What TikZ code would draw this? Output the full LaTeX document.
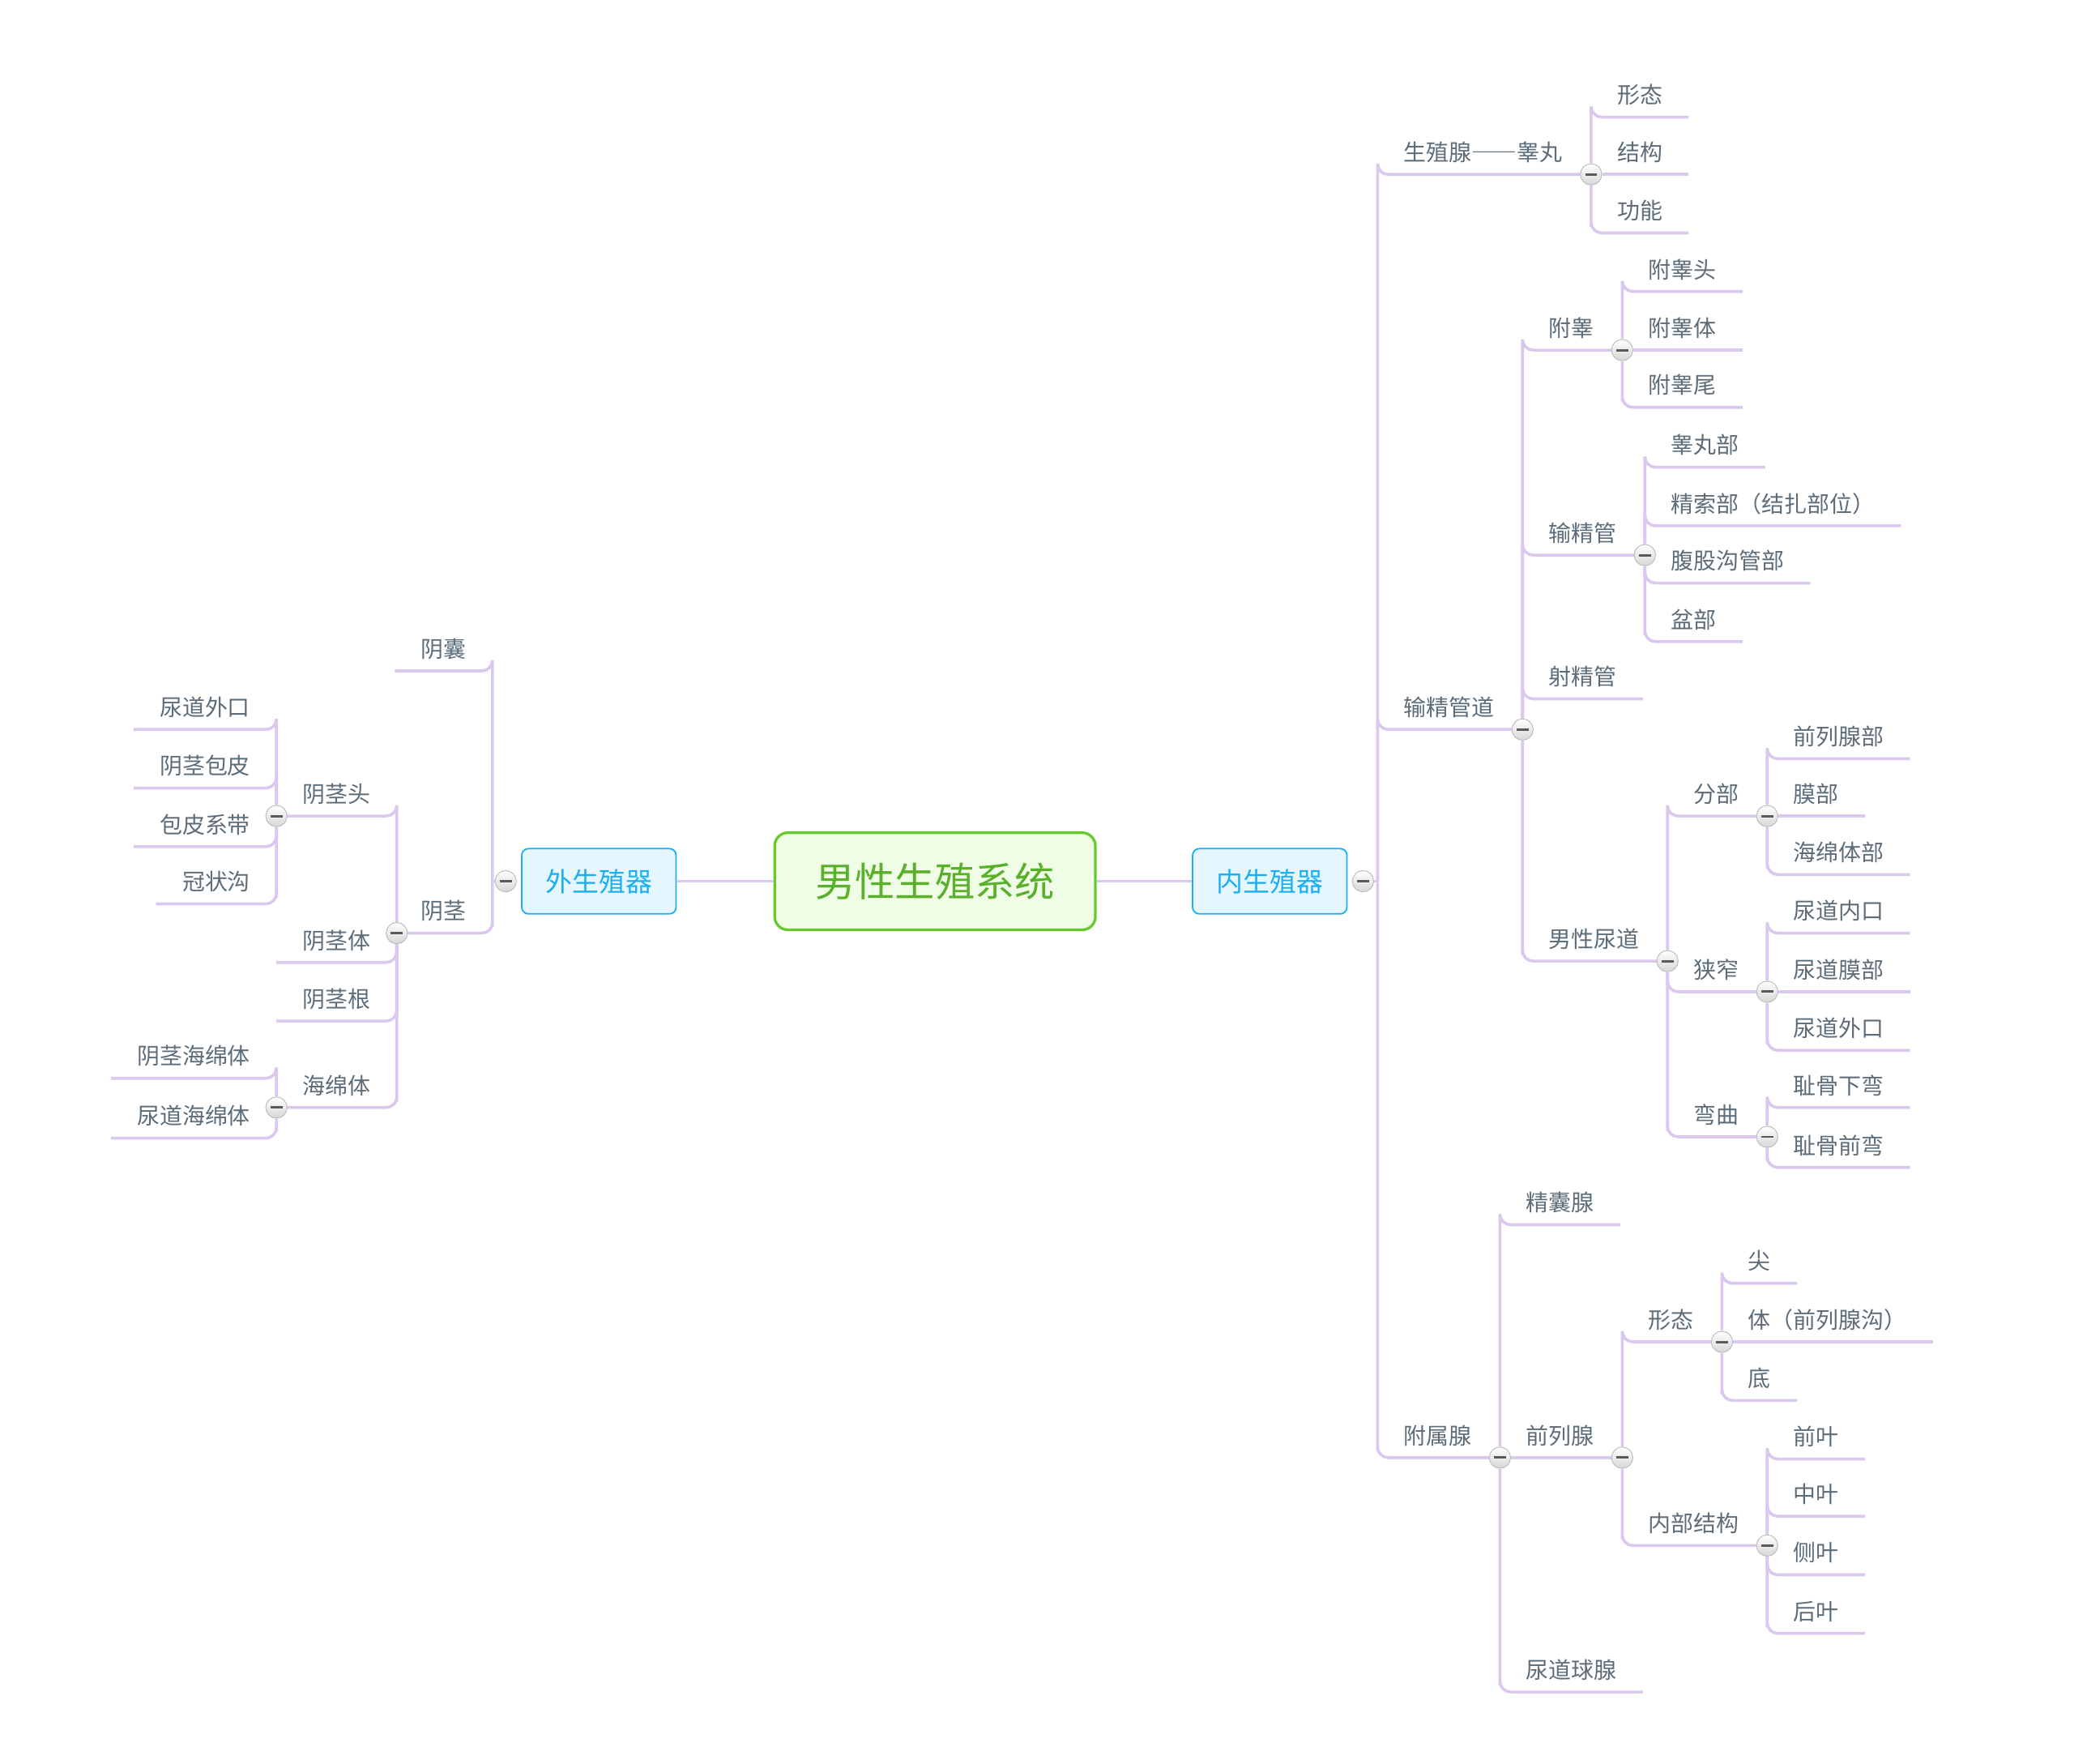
\documentclass[tikz,border=0pt]{standalone}
\usepackage{fontspec}
\usepackage{xcolor}
\usepackage{tikz}
\usetikzlibrary{positioning}
\newfontfamily\cjk{Noto Sans CJK SC}
\definecolor{linec}{HTML}{DAC8EE}
\definecolor{txtc}{HTML}{5C6C79}
\definecolor{rootline}{HTML}{66C92E}
\definecolor{rootfill}{HTML}{F0FDE6}
\definecolor{roottxt}{HTML}{5AB02A}
\definecolor{mainline}{HTML}{1AAEF2}
\definecolor{mainfill}{HTML}{E6F6FE}
\definecolor{foldc}{HTML}{BDBDBD}
\definecolor{foldm}{HTML}{5A5A5A}

\begin{document}
\begin{tikzpicture}[x=1pt, y=-1pt,
  root/.style={draw=rootline, fill=rootfill, line width=2pt, rounded corners=10pt,
    minimum width=241pt, minimum height=73pt, text=roottxt, font=\cjk\fontsize{30}{30}\selectfont},
  main/.style={draw=mainline, fill=mainfill, line width=1.1pt, rounded corners=5pt,
    minimum width=116pt, minimum height=49pt, text=mainline, font=\cjk\fontsize{20}{20}\selectfont},
  rt/.style={anchor=south west, inner xsep=19.5pt, inner ysep=0pt, text height=13pt, text depth=10pt,
    text=txtc, font=\cjk\fontsize{17}{17}\selectfont},
  lt/.style={rt, anchor=south east},
  br/.style={draw=linec, line width=2.2pt, rounded corners=8pt},
  fold/.style={circle, draw=foldc, line width=0.6pt, top color=white, bottom color=black!16,
    minimum size=16pt, inner sep=0pt,
    path picture={\draw[foldm, line width=1.8pt] ([xshift=-4.5pt]path picture bounding box.center)
      -- ([xshift=4.5pt]path picture bounding box.center);}},
]
\useasboundingbox (0,0) rectangle (1568,1325);

\node[root] (root) at (702.5,662) {男性生殖系统};
\node[main] (inner) at (954,662) {内生殖器};
\node[main] (outer) at (450,662) {外生殖器};
\draw[br] (root) -- (inner);
\draw[br] (root) -- (outer);

% right side
\node[fold] (fin) at ([xshift=11.5pt]inner.east) {};
\coordinate (jr) at (1035,662);
\draw[br] (fin) -- (jr);

\node[rt] (gonad) at (jr |- 0,131) {生殖腺{\addfontfeature{CharacterWidth=Full}——}睾丸};
\draw[br] (jr) |- (gonad.south west) -- ([xshift=2pt]gonad.south east);
\node[rt] (duct) at (jr |- 0,548) {输精管道};
\draw[br] (jr) |- (duct.south west) -- ([xshift=1.5pt]duct.south east);
\node[rt] (gland) at (jr |- 0,1095) {附属腺};
\draw[br] (jr) |- (gland.south west) -- ([xshift=1.5pt]gland.south east);

\node[fold] (fgonad) at ([xshift=2pt]gonad.south east) {};
\node[rt] (g1) at (fgonad |- 0,88) {形态};
\node[rt] (g2) at (fgonad |- 0,131) {结构};
\node[rt] (g3) at (fgonad |- 0,175) {功能};
\draw[br] (fgonad) |- (g1.south west) -- (g1.south east);
\draw[br] (fgonad) -- (g2.south east);
\draw[br] (fgonad) |- (g3.south west) -- (g3.south east);

\node[fold] (fduct) at ([xshift=1.5pt]duct.south east) {};
\node[rt] (epi) at (fduct |- 0,263) {附睾};
\node[rt] (vas) at (fduct |- 0,417) {输精管};
\node[rt] (ejac) at (fduct |- 0,525) {射精管};
\node[rt] (ure) at (fduct |- 0,722) {男性尿道};
\draw[br] (fduct) |- (epi.south west) -- ([xshift=1.5pt]epi.south east);
\draw[br] (fduct) |- (vas.south west) -- ([xshift=1.5pt]vas.south east);
\draw[br] (fduct) |- (ejac.south west) -- (ejac.south east);
\draw[br] (fduct) |- (ure.south west) -- ([xshift=1.5pt]ure.south east);

\node[fold] (fepi) at ([xshift=1.5pt]epi.south east) {};
\node[rt] (e1) at (fepi |- 0,219) {附睾头};
\node[rt] (e2) at (fepi |- 0,263) {附睾体};
\node[rt] (e3) at (fepi |- 0,306) {附睾尾};
\draw[br] (fepi) |- (e1.south west) -- (e1.south east);
\draw[br] (fepi) -- (e2.south east);
\draw[br] (fepi) |- (e3.south west) -- (e3.south east);

\node[fold] (fvas) at ([xshift=1.5pt]vas.south east) {};
\node[rt] (v1) at (fvas |- 0,351) {睾丸部};
\node[rt] (v2) at (fvas |- 0,395) {精索部（结扎部位）};
\node[rt] (v3) at (fvas |- 0,438) {腹股沟管部};
\node[rt] (v4) at (fvas |- 0,482) {盆部};
\draw[br] (fvas) |- (v1.south west) -- (v1.south east);
\draw[br] (fvas) |- (v2.south west) -- (v2.south east);
\draw[br] (fvas) |- (v3.south west) -- (v3.south east);
\draw[br] (fvas) |- (v4.south west) -- (v4.south east);

\node[fold] (fure) at ([xshift=1.5pt]ure.south east) {};
\node[rt] (part) at (fure |- 0,613) {分部};
\node[rt] (narrow) at (fure |- 0,745) {狭窄};
\node[rt] (bend) at (fure |- 0,854) {弯曲};
\draw[br] (fure) |- (part.south west) -- ([xshift=1.5pt]part.south east);
\draw[br] (fure) |- (narrow.south west) -- ([xshift=1.5pt]narrow.south east);
\draw[br] (fure) |- (bend.south west) -- ([xshift=1.5pt]bend.south east);

\node[fold] (fpart) at ([xshift=1.5pt]part.south east) {};
\node[rt] (p1) at (fpart |- 0,570) {前列腺部};
\node[rt] (p2) at (fpart |- 0,613) {膜部};
\node[rt] (p3) at (fpart |- 0,657) {海绵体部};
\draw[br] (fpart) |- (p1.south west) -- (p1.south east);
\draw[br] (fpart) -- (p2.south east);
\draw[br] (fpart) |- (p3.south west) -- (p3.south east);

\node[fold] (fnarrow) at ([xshift=1.5pt]narrow.south east) {};
\node[rt] (n1) at (fnarrow |- 0,701) {尿道内口};
\node[rt] (n2) at (fnarrow |- 0,745) {尿道膜部};
\node[rt] (n3) at (fnarrow |- 0,789) {尿道外口};
\draw[br] (fnarrow) |- (n1.south west) -- (n1.south east);
\draw[br] (fnarrow) -- (n2.south east);
\draw[br] (fnarrow) |- (n3.south west) -- (n3.south east);

\node[fold] (fbend) at ([xshift=1.5pt]bend.south east) {};
\node[rt] (b1) at (fbend |- 0,832) {耻骨下弯};
\node[rt] (b2) at (fbend |- 0,877) {耻骨前弯};
\draw[br] (fbend) |- (b1.south west) -- (b1.south east);
\draw[br] (fbend) |- (b2.south west) -- (b2.south east);

\node[fold] (fgland) at ([xshift=1.5pt]gland.south east) {};
\node[rt] (sem) at (fgland |- 0,920) {精囊腺};
\node[rt] (pros) at (fgland |- 0,1095) {前列腺};
\node[rt] (bulb) at (fgland |- 0,1271) {尿道球腺};
\draw[br] (fgland) |- (sem.south west) -- (sem.south east);
\draw[br] (fgland) -- ([xshift=1.5pt]pros.south east);
\draw[br] (fgland) |- (bulb.south west) -- (bulb.south east);

\node[fold] (fpros) at ([xshift=1.5pt]pros.south east) {};
\node[rt] (shape) at (fpros |- 0,1008) {形态};
\node[rt] (struct) at (fpros |- 0,1161) {内部结构};
\draw[br] (fpros) |- (shape.south west) -- ([xshift=1.5pt]shape.south east);
\draw[br] (fpros) |- (struct.south west) -- ([xshift=1.5pt]struct.south east);

\node[fold] (fshape) at ([xshift=1.5pt]shape.south east) {};
\node[rt] (s1) at (fshape |- 0,964) {尖};
\node[rt] (s2) at (fshape |- 0,1008) {体（前列腺沟）};
\node[rt] (s3) at (fshape |- 0,1052) {底};
\draw[br] (fshape) |- (s1.south west) -- (s1.south east);
\draw[br] (fshape) -- (s2.south east);
\draw[br] (fshape) |- (s3.south west) -- (s3.south east);

\node[fold] (fstruct) at ([xshift=1.5pt]struct.south east) {};
\node[rt] (r1) at (fstruct |- 0,1096) {前叶};
\node[rt] (r2) at (fstruct |- 0,1139) {中叶};
\node[rt] (r3) at (fstruct |- 0,1183) {侧叶};
\node[rt] (r4) at (fstruct |- 0,1227) {后叶};
\draw[br] (fstruct) |- (r1.south west) -- (r1.south east);
\draw[br] (fstruct) |- (r2.south west) -- (r2.south east);
\draw[br] (fstruct) |- (r3.south west) -- (r3.south east);
\draw[br] (fstruct) |- (r4.south west) -- (r4.south east);

% left side
\node[fold] (fout) at ([xshift=-11.5pt]outer.west) {};
\coordinate (jl) at (370,662);
\draw[br] (fout) -- (jl);

\node[lt] (scro) at (jl |- 0,504) {阴囊};
\node[lt] (pen) at (jl |- 0,701) {阴茎};
\draw[br] (jl) |- (scro.south east) -- (scro.south west);
\draw[br] (jl) |- (pen.south east) -- (pen.south west);

\node[fold] (fpen) at ([xshift=1.5pt]pen.south west) {};
\node[lt] (glans) at (fpen |- 0,613) {阴茎头};
\node[lt] (body) at (fpen |- 0,723) {阴茎体};
\node[lt] (rootp) at (fpen |- 0,767) {阴茎根};
\node[lt] (cav) at (fpen |- 0,832) {海绵体};
\draw[br] (fpen) |- (glans.south east) -- (glans.south west);
\draw[br] (fpen) |- (body.south east) -- (body.south west);
\draw[br] (fpen) |- (rootp.south east) -- (rootp.south west);
\draw[br] (fpen) |- (cav.south east) -- (cav.south west);

\node[fold] (fglans) at (glans.south west) {};
\node[lt] (h1) at (fglans |- 0,548) {尿道外口};
\node[lt] (h2) at (fglans |- 0,592) {阴茎包皮};
\node[lt] (h3) at (fglans |- 0,636) {包皮系带};
\node[lt] (h4) at (fglans |- 0,679) {冠状沟};
\draw[br] (fglans) |- (h1.south east) -- (h1.south west);
\draw[br] (fglans) |- (h2.south east) -- (h2.south west);
\draw[br] (fglans) |- (h3.south east) -- (h3.south west);
\draw[br] (fglans) |- (h4.south east) -- (h4.south west);

\node[fold] (fcav) at (cav.south west) {};
\node[lt] (c1) at (fcav |- 0,810) {阴茎海绵体};
\node[lt] (c2) at (fcav |- 0,855) {尿道海绵体};
\draw[br] (fcav) |- (c1.south east) -- (c1.south west);
\draw[br] (fcav) |- (c2.south east) -- (c2.south west);
\end{tikzpicture}
\end{document}
